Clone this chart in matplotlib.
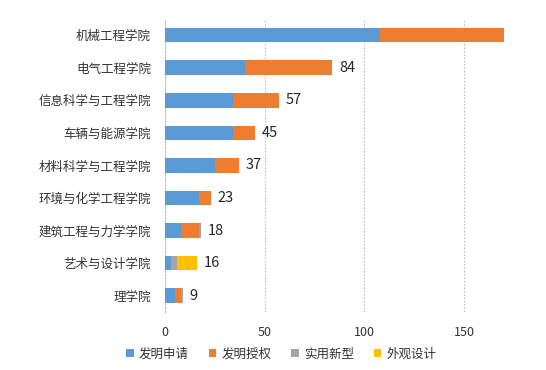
import matplotlib
matplotlib.use("Agg")
import matplotlib.pyplot as plt
import numpy as np

plt.rcParams['font.family'] = ['Noto Sans CJK SC', 'DejaVu Sans']

colleges = ["机械工程学院", "电气工程学院", "信息科学与工程学院", "车辆与能源学院",
            "材料科学与工程学院", "环境与化学工程学院", "建筑工程与力学学院",
            "艺术与设计学院", "理学院"]
series_names = ["发明申请", "发明授权", "实用新型", "外观设计"]
apply_inv = [108, 40, 34, 34, 25, 17, 8, 3, 5]
grant_inv = [62, 44, 23, 11, 12, 6, 9, 0, 3]
utility = [0, 0, 0, 0, 0, 0, 1, 3, 1]
design = [0, 0, 0, 0, 0, 0, 0, 10, 0]
totals = [170, 84, 57, 45, 37, 23, 18, 16, 9]
colors = ["#5B9BD5", "#ED7D31", "#A5A5A5", "#FFC000"]

fig = plt.figure(figsize=(5.46, 3.70), dpi=100)
ax = fig.add_axes([0.302, 0.157, 0.639, 0.792])

y = np.arange(len(colleges))
left = np.zeros(len(colleges))
for name, vals, c in zip(series_names, [apply_inv, grant_inv, utility, design], colors):
    ax.barh(y, vals, left=left, height=0.45, color=c, label=name, zorder=3)
    left += np.array(vals)

# value labels (the first one falls outside the plot area)
for i, t in enumerate(totals):
    if i == 0:
        continue
    ax.text(t + 3.5, y[i], str(t), va="center", ha="left", fontsize=10.5, color="#262626")

ax.set_xlim(0, 175)
ax.set_ylim(len(colleges) - 0.5, -0.5)
ax.set_yticks(y)
ax.set_yticklabels(colleges, fontsize=9, color="#333333")
ax.set_xticks([0, 50, 100, 150])
ax.tick_params(axis="x", labelsize=9, colors="#333333", length=0, pad=10)
ax.tick_params(axis="y", length=0, pad=10)
ax.xaxis.grid(True, linestyle=(0, (1.5, 1.5)), color="#BFBFBF", linewidth=0.8, zorder=0)
for s in ["top", "right", "bottom"]:
    ax.spines[s].set_visible(False)
ax.spines["left"].set_linestyle((0, (1.5, 1.5)))
ax.spines["left"].set_color("#BFBFBF")
ax.spines["left"].set_linewidth(0.8)

fig.legend(loc="center", bbox_to_anchor=(0.515, 0.043), ncol=4, frameon=False,
           fontsize=9, handlelength=0.6, handleheight=0.6, handletextpad=0.4,
           columnspacing=1.6, labelcolor="#333333")

fig.savefig("out.png", dpi=100)
